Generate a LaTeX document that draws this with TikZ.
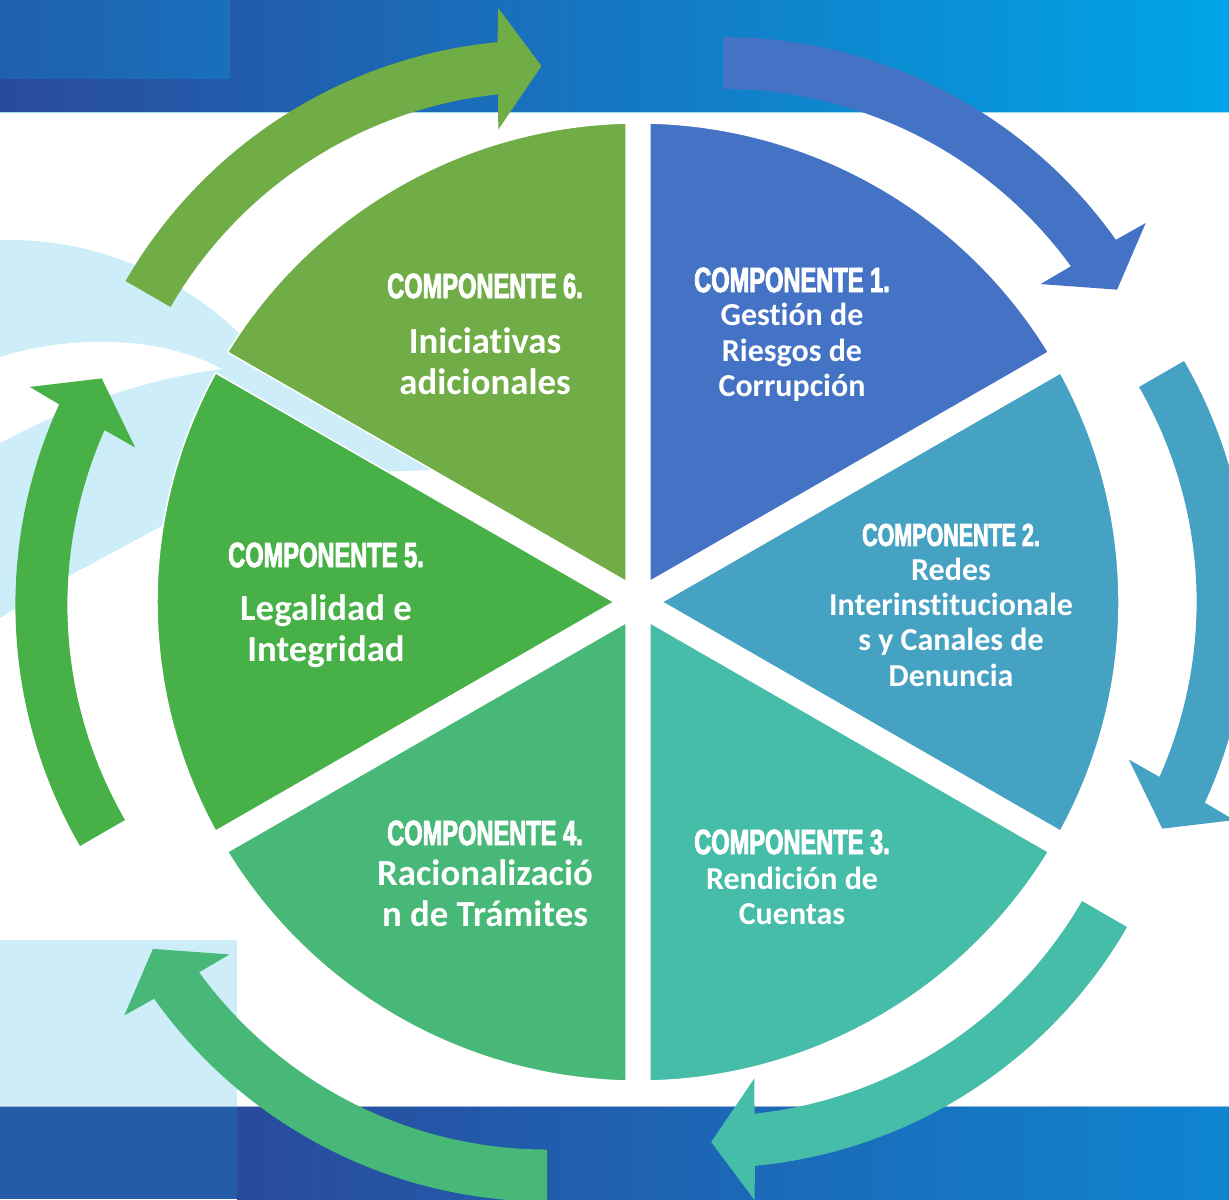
\documentclass[tikz,border=0pt]{standalone}
\usepackage{fontspec}
\setmainfont[Ligatures=NoCommon]{Carlito}
\newfontfamily\headfont[FakeStretch=0.675,FakeBold=2.4]{Liberation Sans}
\definecolor{compone}{HTML}{4472C4}
\definecolor{comptwo}{HTML}{46A2C2}
\definecolor{compthree}{HTML}{46BDA8}
\definecolor{compfour}{HTML}{47B878}
\definecolor{compfive}{HTML}{47B147}
\definecolor{compsix}{HTML}{70AD47}
\definecolor{paleblue}{HTML}{CDEEF9}
\definecolor{banddark}{HTML}{2A4A9C}
\definecolor{bandmid}{HTML}{1080C9}
\definecolor{bandcyan}{HTML}{00A5E8}
\definecolor{patchleft}{HTML}{1F5FAE}
\definecolor{patchright}{HTML}{1A70BB}
\definecolor{lowmid}{HTML}{1F64B3}
\definecolor{lowright}{HTML}{0E85D0}
\definecolor{lowpatch}{HTML}{255CA9}
\definecolor{toprule}{HTML}{A0DDF0}
\definecolor{lowrule}{HTML}{A0B4D8}
\tikzset{
	headtext/.style={text=white,inner sep=0pt,font=\headfont\bfseries\fontsize{17.5}{20}\selectfont},
	headsmall/.style={text=white,inner sep=0pt,font=\headfont\bfseries\fontsize{15.9}{20}\selectfont},
	bodytext/.style={text=white,inner sep=0pt,align=center,font=\bfseries\fontsize{16}{17.7}\selectfont},
	bigtext/.style={text=white,inner sep=0pt,align=center,font=\bfseries\fontsize{18.4}{20.5}\selectfont},
	sectorshape/.style={draw=white,line width=0.7pt}
}
\newcommand{\wheelsector}[2]{%
	\fill[#2,sectorshape] (#1:24) -- (#1+28.57:481) arc[start angle=#1+28.57,end angle=#1-28.57,radius=481] -- cycle;}
\newcommand{\cyclearrow}[4]{%
	\begin{scope}[shift={(#1,#2)},rotate=#3]
		\fill[#4] (0:430) arc[start angle=0,end angle=-54,radius=430] -- (-53.5:395) -- (-59.8:456) -- (-55:516) -- (-54.6:482) arc[start angle=-54.6,end angle=0,radius=482] -- cycle;
	\end{scope}}
\begin{document}
\begin{tikzpicture}[x=0.5pt,y=0.5pt]
		\clip (0,0) rectangle (1229,-1199);
		% bands
		\shade[left color=banddark,middle color=bandmid,right color=bandcyan] (0,0) rectangle (1229,-112);
		\shade[left color=patchleft,right color=patchright] (0,0) rectangle (230,-78);
		\shade[left color=banddark,middle color=lowmid,right color=lowright] (237,-1106) rectangle (1229,-1199);
		\fill[lowpatch] (0,-1106) rectangle (237,-1199);
		\draw[toprule,line width=0.5pt] (0,-112.5) -- (1229,-112.5);
		\draw[lowrule,line width=0.5pt] (0,-1106) -- (1229,-1106);
		% pale shapes
		\fill[paleblue] (0,-940) rectangle (237,-1106);
		\fill[paleblue] (0,-240) .. controls (80,-238) and (170,-265) .. (243,-337) -- (433,-470) .. controls (340,-472) and (250,-480) .. (160,-527) -- (67,-577) -- (0,-618) -- cycle;
		\fill[white] (0,-357) .. controls (70,-335) and (160,-335) .. (222,-369) .. controls (150,-378) and (70,-405) .. (0,-443) -- cycle;
		% wheel
		\begin{scope}[shift={(638,-602)},yscale=0.996]
			\wheelsector{60}{compone}
			\wheelsector{0}{comptwo}
			\wheelsector{-60}{compthree}
			\wheelsector{-120}{compfour}
			\wheelsector{180}{compfive}
			\wheelsector{120}{compsix}
		\end{scope}
		% arrows
		\cyclearrow{723}{-519}{90}{compone}
		\cyclearrow{766.6}{-602}{30}{comptwo}
		\cyclearrow{709.6}{-686}{-30}{compthree}
		\cyclearrow{547}{-719.5}{-90}{compfour}
		\cyclearrow{497.4}{-605}{210}{compfive}
		\cyclearrow{543}{-522}{150}{compsix}
		% texts
		\node[headtext] (headone) at (792,-280) {COMPONENTE 1.};
		\node[bodytext] (bodyone) at (792,-352.5) {Gesti\'on de\\Riesgos de\\Corrupci\'on};
		\node[headsmall] (headtwo) at (951,-535) {COMPONENTE 2.};
		\node[bodytext] (bodytwo) at (951,-622) {Redes\\Interinstitucionale\\s y Canales de\\Denuncia};
		\node[headtext] (headthree) at (792,-842) {COMPONENTE 3.};
		\node[bodytext] (bodythree) at (792,-896) {Rendici\'on de\\Cuentas};
		\node[headtext] (headfour) at (485,-833) {COMPONENTE 4.};
		\node[bigtext] (bodyfour) at (485,-893) {Racionalizaci\'o\\n de Tr\'amites};
		\node[headtext] (headfive) at (326,-555) {COMPONENTE 5.};
		\node[bigtext] (bodyfive) at (326,-631.5) {Legalidad e\\Integridad};
		\node[headtext] (headsix) at (485,-286) {COMPONENTE 6.};
		\node[bigtext] (bodysix) at (485,-361) {Iniciativas\\adicionales};
\end{tikzpicture}
\end{document}
